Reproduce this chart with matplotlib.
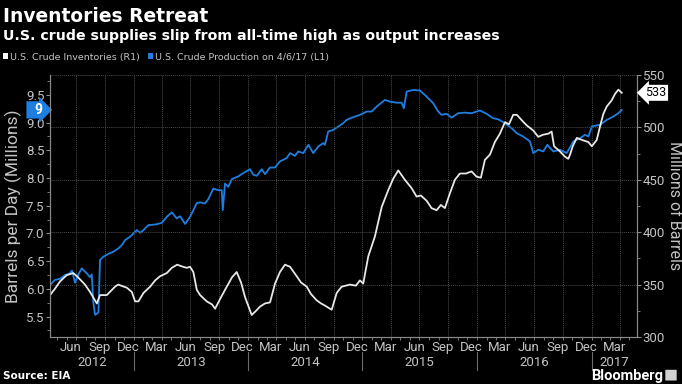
import matplotlib
matplotlib.use('Agg')
import matplotlib.pyplot as plt
import matplotlib.dates as mdates
import matplotlib.transforms as mtransforms
from matplotlib.patches import Patch, FancyBboxPatch
from matplotlib.ticker import MultipleLocator
import pandas as pd

# U.S. crude inventories, millions of barrels (right axis), x as decimal year
inv_year = [2012.271, 2012.314, 2012.358, 2012.417, 2012.474, 2012.515, 2012.576,
            2012.620, 2012.679, 2012.707, 2012.766, 2012.838, 2012.865, 2012.941,
            2012.984, 2013.013, 2013.042, 2013.086, 2013.144, 2013.188, 2013.231,
            2013.290, 2013.334, 2013.380, 2013.432, 2013.465, 2013.493, 2013.522,
            2013.552, 2013.581, 2013.639, 2013.686, 2013.712, 2013.764, 2013.814,
            2013.860, 2013.901, 2013.939, 2013.974, 2014.032, 2014.070, 2014.105,
            2014.148, 2014.192, 2014.236, 2014.279, 2014.323, 2014.367, 2014.425,
            2014.463, 2014.513, 2014.550, 2014.600, 2014.638, 2014.672, 2014.731,
            2014.775, 2014.818, 2014.891, 2014.943, 2014.978, 2015.007, 2015.051,
            2015.109, 2015.168, 2015.225, 2015.269, 2015.313, 2015.371, 2015.430,
            2015.473, 2015.511, 2015.561, 2015.604, 2015.648, 2015.686, 2015.721,
            2015.764, 2015.808, 2015.852, 2015.904, 2015.954, 2015.997, 2016.035,
            2016.070, 2016.114, 2016.157, 2016.201, 2016.245, 2016.280, 2016.317,
            2016.349, 2016.390, 2016.434, 2016.492, 2016.535, 2016.576, 2016.623,
            2016.652, 2016.673, 2016.725, 2016.769, 2016.797, 2016.812, 2016.836,
            2016.871, 2016.917, 2016.972, 2017.002, 2017.045, 2017.074, 2017.103,
            2017.133, 2017.177, 2017.205, 2017.234, 2017.264]
inv_val = [340, 346, 353, 359, 361, 357, 350,
           343, 332, 340, 340, 348, 350, 347,
           343, 334, 334, 342, 348, 354, 358,
           361, 366, 369, 367, 366, 367, 362,
           345, 340, 334, 331, 327, 338, 348,
           357, 362, 352, 338, 321, 325, 329,
           332, 333, 351, 362, 369, 367, 358,
           352, 348, 341, 335, 332, 330, 326,
           342, 348, 350, 349, 354, 351, 377,
           396, 424, 440, 451, 459, 450, 442,
           434, 435, 430, 423, 421, 426, 423,
           437, 450, 456, 456, 458, 453, 452,
           469, 474, 486, 494, 505, 503, 512,
           512, 507, 502, 497, 491, 493, 494,
           496, 482, 477, 472, 470, 474, 482,
           490, 488, 486, 482, 488, 501, 513,
           520, 526, 532, 536, 533]

# U.S. crude production, millions of barrels per day (left axis)
prod_year = [2012.271, 2012.314, 2012.358, 2012.402, 2012.445, 2012.463, 2012.489,
             2012.518, 2012.548, 2012.591, 2012.620, 2012.635, 2012.649, 2012.664,
             2012.693, 2012.707, 2012.736, 2012.780, 2012.824, 2012.867, 2012.897,
             2012.926, 2012.969, 2012.998, 2013.028, 2013.057, 2013.086, 2013.129,
             2013.188, 2013.246, 2013.290, 2013.334, 2013.377, 2013.406, 2013.450,
             2013.493, 2013.522, 2013.552, 2013.581, 2013.624, 2013.653, 2013.697,
             2013.741, 2013.770, 2013.779, 2013.799, 2013.828, 2013.858, 2013.915,
             2013.959, 2014.017, 2014.046, 2014.076, 2014.120, 2014.148, 2014.192,
             2014.236, 2014.279, 2014.338, 2014.367, 2014.410, 2014.439, 2014.483,
             2014.527, 2014.570, 2014.614, 2014.658, 2014.672, 2014.701, 2014.745,
             2014.789, 2014.832, 2014.862, 2014.920, 2014.978, 2015.037, 2015.080,
             2015.124, 2015.197, 2015.240, 2015.299, 2015.342, 2015.362, 2015.386,
             2015.444, 2015.502, 2015.546, 2015.575, 2015.618, 2015.662, 2015.692,
             2015.735, 2015.779, 2015.837, 2015.895, 2015.954, 2016.026, 2016.085,
             2016.142, 2016.186, 2016.245, 2016.303, 2016.347, 2016.404, 2016.463,
             2016.492, 2016.535, 2016.579, 2016.614, 2016.666, 2016.725, 2016.783,
             2016.841, 2016.900, 2016.943, 2016.972, 2017.002, 2017.045, 2017.074,
             2017.133, 2017.190, 2017.234, 2017.264]
prod_val = [6.07, 6.16, 6.18, 6.25, 6.28, 6.33, 6.11,
            6.26, 6.37, 6.28, 6.21, 6.26, 5.75, 5.53,
            5.57, 6.52, 6.58, 6.63, 6.67, 6.73, 6.79,
            6.88, 6.94, 7.00, 7.06, 7.01, 7.06, 7.15,
            7.16, 7.19, 7.30, 7.38, 7.27, 7.31, 7.17,
            7.30, 7.42, 7.55, 7.56, 7.54, 7.62, 7.81,
            7.78, 7.78, 7.42, 7.90, 7.84, 7.98, 8.03,
            8.09, 8.16, 8.06, 8.04, 8.16, 8.07, 8.19,
            8.19, 8.30, 8.36, 8.45, 8.40, 8.48, 8.45,
            8.60, 8.45, 8.57, 8.63, 8.60, 8.84, 8.87,
            8.93, 8.99, 9.05, 9.10, 9.14, 9.20, 9.20,
            9.29, 9.41, 9.38, 9.36, 9.36, 9.26, 9.56,
            9.59, 9.58, 9.50, 9.44, 9.35, 9.20, 9.14,
            9.16, 9.09, 9.17, 9.18, 9.17, 9.22, 9.16,
            9.08, 9.06, 8.99, 8.90, 8.81, 8.75, 8.66,
            8.45, 8.51, 8.48, 8.60, 8.48, 8.51, 8.45,
            8.66, 8.72, 8.78, 8.75, 8.93, 8.95, 8.96,
            9.05, 9.11, 9.17, 9.23]

years = [2012, 2013, 2014, 2015, 2016, 2017]
inv_tag = '533'
prod_tag = '9'

BG = 'black'
BLUE = '#1f7fe0'
WHITE = '#e8e8e8'
GRID = '#4a4a4a'
TICK = '#c4c4c4'

plt.rcParams['font.family'] = ['Roboto', 'DejaVu Sans']


def to_dates(dec_years):
    out = []
    for y in dec_years:
        base = pd.Timestamp(int(y), 1, 1)
        nxt = pd.Timestamp(int(y) + 1, 1, 1)
        out.append(base + (nxt - base) * (y - int(y)))
    return out


inv_dates = to_dates(inv_year)
prod_dates = to_dates(prod_year)
x_start, x_end = to_dates([2012.271, 2017.397])

fig = plt.figure(figsize=(6.82, 3.84), dpi=100, facecolor=BG)
ax = fig.add_axes([50 / 682, 1 - 337 / 384, 587 / 682, 262 / 384])
ax2 = ax.twinx()
for a in (ax, ax2):
    a.set_facecolor('none')
    for s in a.spines.values():
        s.set_color('#8a8a8a')
        s.set_linewidth(0.8)
    a.spines['top'].set_visible(False)
ax.set_facecolor(BG)

ax.plot(prod_dates, prod_val, color=BLUE, lw=1.3)
ax2.plot(inv_dates, inv_val, color=WHITE, lw=1.3)

ax.set_xlim(x_start, x_end)
ax.set_ylim(5.13, 9.86)
ax2.set_ylim(300, 550)

# y ticks
ax.set_yticks([5.5, 6.0, 6.5, 7.0, 7.5, 8.0, 8.5, 9.0, 9.5])
ax.yaxis.set_minor_locator(MultipleLocator(0.25))
ax.yaxis.set_major_formatter(plt.FormatStrFormatter('%.1f'))
ax2.yaxis.set_major_locator(MultipleLocator(50))
ax2.yaxis.set_minor_locator(MultipleLocator(25))
for a in (ax, ax2):
    a.tick_params(axis='y', which='major', colors='#8a8a8a', labelcolor=TICK,
                  labelsize=9.5, length=3, width=0.8, pad=1)
    a.tick_params(axis='y', which='minor', colors='#8a8a8a', length=2, width=0.6)

# horizontal grid follows the right axis
for v in ax2.get_yticks():
    if 300 < v <= 550:
        ax2.axhline(v, color=GRID, lw=0.7, ls=(0, (1, 1)), zorder=0)

# x axis: month labels mid-month, monthly minor ticks, quarter grid
ax.xaxis.set_major_locator(mdates.MonthLocator(bymonth=[3, 6, 9, 12], bymonthday=15))
ax.xaxis.set_major_formatter(mdates.DateFormatter('%b'))
ax.xaxis.set_minor_locator(mdates.MonthLocator())
ax.tick_params(axis='x', which='major', length=0, labelcolor=TICK, labelsize=9.5, pad=3)
ax.tick_params(axis='x', which='minor', length=2.5, colors='#8a8a8a', width=0.6)
for q in pd.date_range('2012-07-01', '2017-04-01', freq='QS'):
    ax.axvline(q, color=GRID, lw=0.7, ls=(0, (1, 1)), zorder=0)

# year labels and separators under the month labels
trans = mtransforms.blended_transform_factory(ax.transData, ax.transAxes)
for yr in years:
    lo = max(pd.Timestamp(yr, 1, 1), x_start)
    hi = min(pd.Timestamp(yr + 1, 1, 1), x_end)
    mid = lo + (hi - lo) / 2
    ax.text(mid, -0.097, str(yr), transform=trans, ha='center', va='center',
            color=TICK, fontsize=9.5)
    if yr > years[0]:
        ax.plot([pd.Timestamp(yr, 1, 1)] * 2, [-0.058, -0.125], transform=trans,
                color='#6a6a6a', lw=0.8, clip_on=False)

ax.set_ylabel('Barrels per Day (Millions)', color=TICK, fontsize=12.5, labelpad=3)
ax2.set_ylabel('Millions of Barrels', color=TICK, fontsize=11.5, rotation=270,
               labelpad=12)

# last-value tags
ax.annotate('  ' + prod_tag, xy=(0, prod_val[-1]), xycoords=('axes fraction', 'data'),
            xytext=(-5, 0), textcoords='offset points', ha='right', va='center',
            color='white', fontsize=10, fontweight='bold',
            bbox=dict(boxstyle='rarrow,pad=0.12', fc=BLUE, ec='none'),
            annotation_clip=False)
ax2.annotate(inv_tag, xy=(1, inv_val[-1]), xycoords=('axes fraction', 'data'),
             xytext=(6, 0), textcoords='offset points', ha='left', va='center',
             color='black', fontsize=9,
             bbox=dict(boxstyle='larrow,pad=0.12', fc='white', ec='none'),
             annotation_clip=False)

# titles and legend
fig.text(0.004, 0.958, 'Inventories Retreat', color='white', fontsize=13.4,
         fontweight='bold', va='center', ha='left', family='DejaVu Sans')
fig.text(0.004, 0.905, 'U.S. crude supplies slip from all-time high as output increases',
         color='white', fontsize=10.2, fontweight='bold', va='center', ha='left',
         family='DejaVu Sans')
handles = [Patch(facecolor='white', label='U.S. Crude Inventories (R1)'),
           Patch(facecolor=BLUE, label='U.S. Crude Production on 4/6/17 (L1)')]
fig.legend(handles=handles, loc='center left', bbox_to_anchor=(0.004, 0.851),
           ncol=2, frameon=False, prop={'family': 'DejaVu Sans', 'size': 6.8},
           labelcolor=TICK, handlelength=0.6, handleheight=0.6, handletextpad=0.2,
           columnspacing=0.8, borderaxespad=0, borderpad=0)

fig.text(0.005, 0.022, 'Source: EIA', color='white', fontsize=7.5, fontweight='bold',
         va='center', ha='left', family='DejaVu Sans')
fig.text(0.972, 0.022, 'Bloomberg', color='white', fontsize=10.5, fontweight='bold',
         va='center', ha='right')
# small logo square next to the brand name
fig.patches.append(FancyBboxPatch((666 / 682, 0.010), 10 / 682, 10 / 384,
                                  boxstyle='round,pad=0.001', fc='#d0d0d0', ec='none',
                                  transform=fig.transFigure, figure=fig))

fig.savefig('out.png', dpi=100, facecolor=BG)
